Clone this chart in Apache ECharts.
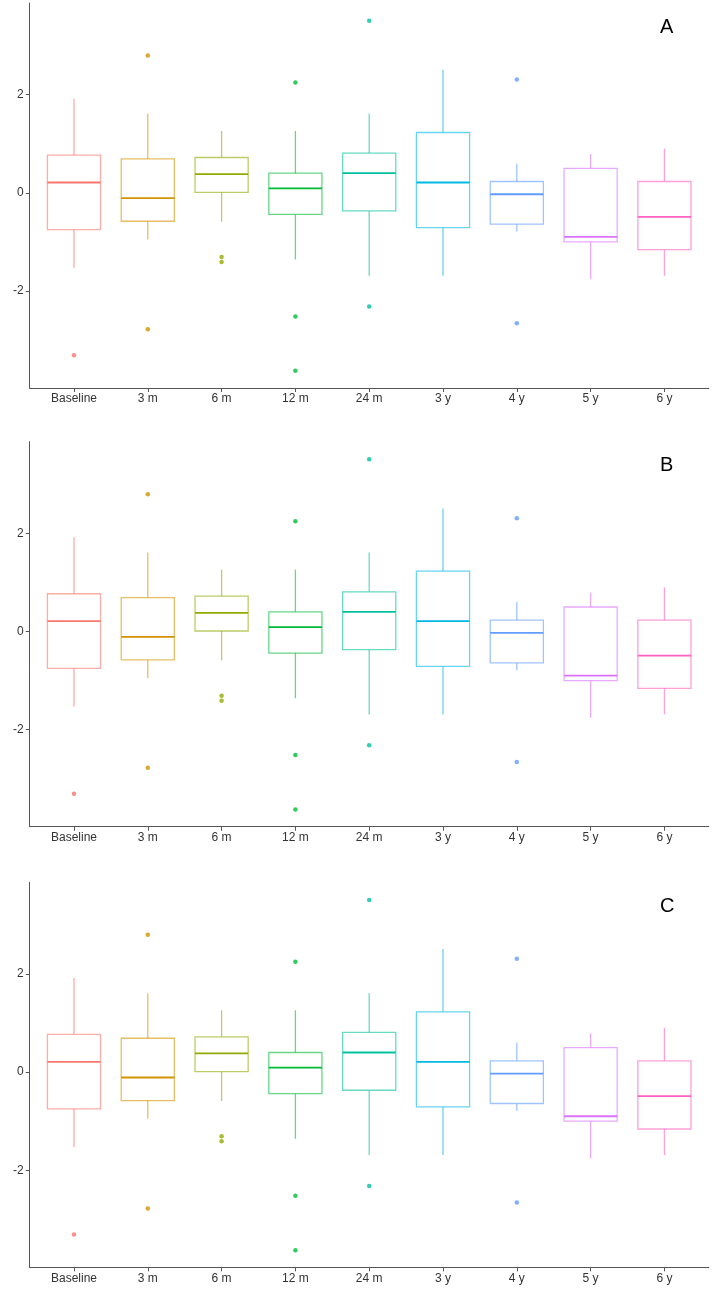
<!DOCTYPE html>
<html>
<head>
<meta charset="utf-8">
<script src="https://cdn.jsdelivr.net/npm/echarts@6/dist/echarts.min.js"></script>
<style>
html,body{margin:0;padding:0;background:#fff;}
#chart{width:722px;height:1297px;}
</style>
</head>
<body>
<div id="chart"></div>
<script>
// ---- data ----
const categories = ['Baseline', '3 m', '6 m', '12 m', '24 m', '3 y', '4 y', '5 y', '6 y'];
const whiskerLow  = [-1.53, -0.95, -0.59, -1.36, -1.69, -1.69, -0.79, -1.76, -1.69];
const q1          = [-0.75, -0.58,  0.01, -0.44, -0.37, -0.71, -0.64, -1.00, -1.16];
const median      = [ 0.21, -0.11,  0.38,  0.09,  0.40,  0.21, -0.03, -0.90, -0.49];
const q3          = [ 0.77,  0.69,  0.72,  0.40,  0.81,  1.23,  0.23,  0.50,  0.23];
const whiskerHigh = [ 1.92,  1.61,  1.26,  1.26,  1.61,  2.51,  0.60,  0.79,  0.90];
// outliers: [category index, value]
const outliers = [
  [0, -3.31],
  [1, 2.80], [1, -2.78],
  [2, -1.31], [2, -1.41],
  [3, 2.25], [3, -2.52], [3, -3.63],
  [4, 3.51], [4, -2.32],
  [6, 2.31], [6, -2.66]
];
const yTicks = [-2, 0, 2];
const panelLabels = ['A', 'B', 'C'];
const palette = ['#F8766D', '#D39200', '#93AA00', '#00BA38', '#00C19F', '#00B9E3', '#619CFF', '#DB72FB', '#FF61C3'];

// ---- layout ----
const panelTops = [3, 441.7, 882.3];
const panelHeight = 385;
const gridLeft = 29.7;
const gridWidth = 679;
const boxUnits = 0.72;
const xFont = "'Liberation Sans Narrow', 'Arial Narrow', 'Liberation Sans', Arial, sans-serif";

function hexA(hex, a) {
  const r = parseInt(hex.slice(1, 3), 16), g = parseInt(hex.slice(3, 5), 16), b = parseInt(hex.slice(5, 7), 16);
  return 'rgba(' + r + ',' + g + ',' + b + ',' + a + ')';
}

const boxData = categories.map((c, i) => [i, whiskerLow[i], q1[i], median[i], q3[i], whiskerHigh[i]]);
const outlierData = outliers.map(o => ({ value: [o[0], o[1]], itemStyle: { color: palette[o[0]] } }));

const grids = [], xAxes = [], yAxes = [], series = [], titles = [];
panelTops.forEach((top, p) => {
  grids.push({ left: gridLeft, top: top, width: gridWidth, height: panelHeight, containLabel: false });
  xAxes.push({
    type: 'value', gridIndex: p, min: -0.6, max: 8.6,
    splitLine: { show: false },
    axisLine: { show: true, onZero: false, lineStyle: { color: '#555', width: 1 } },
    axisTick: { show: true, customValues: categories.map((c, i) => i), length: 4, lineStyle: { color: '#555' } },
    axisLabel: {
      show: true, customValues: categories.map((c, i) => i),
      formatter: v => categories[Math.round(v)] || '',
      color: '#333', fontFamily: xFont, fontSize: 12, margin: 5
    }
  });
  yAxes.push({
    type: 'value', gridIndex: p, min: -3.98, max: 3.87,
    splitLine: { show: false },
    axisLine: { show: true, onZero: false, lineStyle: { color: '#555', width: 1 } },
    axisTick: { show: true, customValues: yTicks, length: 4, lineStyle: { color: '#555' } },
    axisLabel: { show: true, customValues: yTicks, color: '#333', fontFamily: "'Liberation Sans', Arial, sans-serif", fontSize: 12, margin: 6 }
  });
  series.push({
    type: 'custom', xAxisIndex: p, yAxisIndex: p,
    data: boxData,
    encode: { x: 0, y: [1, 2, 3, 4, 5] },
    renderItem: function (params, api) {
      const i = api.value(0);
      const col = palette[i];
      const light = hexA(col, 0.6);
      const w = api.size([boxUnits, 0])[0];
      const pLo = api.coord([i, api.value(1)]);
      const pQ1 = api.coord([i, api.value(2)]);
      const pMed = api.coord([i, api.value(3)]);
      const pQ3 = api.coord([i, api.value(4)]);
      const pHi = api.coord([i, api.value(5)]);
      const x = pMed[0];
      const lineStyle = { stroke: light, lineWidth: 1.3, fill: null };
      return {
        type: 'group',
        children: [
          { type: 'line', shape: { x1: x, y1: pHi[1], x2: x, y2: pQ3[1] }, style: lineStyle },
          { type: 'line', shape: { x1: x, y1: pQ1[1], x2: x, y2: pLo[1] }, style: lineStyle },
          { type: 'rect', shape: { x: x - w / 2, y: pQ3[1], width: w, height: pQ1[1] - pQ3[1] }, style: { stroke: light, lineWidth: 1.3, fill: '#fff' } },
          { type: 'line', shape: { x1: x - w / 2, y1: pMed[1], x2: x + w / 2, y2: pMed[1] }, style: { stroke: col, lineWidth: 1.8 } }
        ]
      };
    },
    silent: true
  });
  series.push({
    type: 'scatter', xAxisIndex: p, yAxisIndex: p,
    data: outlierData, symbol: 'circle', symbolSize: 4.5, silent: true
  });
  titles.push({
    text: panelLabels[p], left: 655, top: top + 9,
    textStyle: { fontSize: 20, fontWeight: 'normal', color: '#000', fontFamily: "'Liberation Sans', Arial, sans-serif" }
  });
});

const chart = echarts.init(document.getElementById('chart'), null, { renderer: 'canvas' });
chart.setOption({
  animation: false,
  backgroundColor: '#fff',
  title: titles,
  grid: grids,
  xAxis: xAxes,
  yAxis: yAxes,
  series: series
});
</script>
</body>
</html>
